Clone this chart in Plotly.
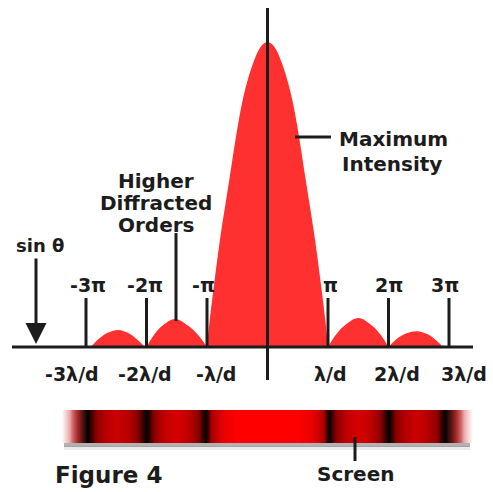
import plotly.graph_objects as go

# ---------------- data ----------------
# diffraction intensity profile: phase in units of pi, relative intensity
curve_phase = [-3.0, -2.92, -2.8, -2.65, -2.47, -2.3, -2.15, -2.03,
               -2.0, -1.875, -1.75, -1.53, -1.3, -1.15, -1.0,
               -0.96, -0.88, -0.78, -0.63, -0.5, -0.41, -0.32, -0.23, -0.15, -0.08, 0.0,
               0.08, 0.15, 0.23, 0.32, 0.41, 0.5, 0.63, 0.78, 0.88, 0.96, 1.0,
               1.13, 1.27, 1.5, 1.73, 1.87, 2.0,
               2.12, 2.3, 2.47, 2.65, 2.8, 2.9, 3.0]
curve_intensity = [0.0, 0.0, 0.025, 0.046, 0.056, 0.046, 0.024, 0.0,
                   0.0, 0.04, 0.068, 0.092, 0.068, 0.04, 0.0,
                   0.08, 0.21, 0.36, 0.55, 0.715, 0.81, 0.88, 0.935, 0.972, 0.992, 1.0,
                   0.992, 0.972, 0.935, 0.88, 0.81, 0.715, 0.55, 0.36, 0.21, 0.08, 0.0,
                   0.04, 0.07, 0.095, 0.07, 0.04, 0.0,
                   0.024, 0.045, 0.052, 0.042, 0.02, 0.0, 0.0]

# tick marks (phase / pi) and their labels
tick_phase = [-3, -2, -1, 1, 2, 3]
pi_labels = ["-3π", "-2π", "-π", "π", "2π", "3π"]
lambda_labels = ["-3λ/d", "-2λ/d", "-λ/d", "λ/d", "2λ/d", "3λ/d"]

# brightness along the screen strip (phase / pi, level: -1 white fade, 0 black, 1 bright red)
screen_pos = [-3.43, -3.41, -3.33, -3.22, -3.1, -2.98, -2.85, -2.7, -2.5, -2.3, -2.15,
              -2.01, -1.88, -1.72, -1.52, -1.32, -1.15, -1.02, -0.92, -0.75, -0.5,
              0.0, 0.5, 0.75, 0.92, 1.0, 1.13, 1.3, 1.5, 1.7, 1.87, 1.99, 2.12,
              2.28, 2.47, 2.65, 2.8, 2.93, 3.05, 3.18, 3.28, 3.38, 3.40]
screen_level = [-1, -1, -0.75, -0.45, -0.2, 0, 0.45, 0.65, 0.75, 0.65, 0.45,
                0, 0.45, 0.7, 0.8, 0.7, 0.45, 0, 0.6, 0.88, 1,
                1, 1, 0.88, 0.6, 0, 0.45, 0.7, 0.8, 0.7, 0.45, 0, 0.45,
                0.65, 0.75, 0.65, 0.45, 0, -0.2, -0.45, -0.75, -1, -1]

# ---------------- layout helpers (pixel -> data) ----------------
W, H = 493, 492
PX0, PXU = 267.5, 60.5   # pixel x of phase 0, pixels per pi
PY0, PYU = 347.0, 305.0  # pixel y of zero intensity, pixels per unit intensity


def ux(px):
    return (px - PX0) / PXU


def iy(py):
    return (PY0 - py) / PYU


INK = "#1c1c1c"
FONT = "DejaVu Sans"
RED = "rgb(255,48,48)"

fig = go.Figure()

# screen strip shadow + strip
fig.add_shape(type="rect", layer="below", x0=ux(64), x1=ux(470), y0=iy(447), y1=iy(440),
              fillcolor="rgba(0,0,0,0.30)", line_width=0)
fig.add_shape(type="rect", layer="below", x0=ux(64), x1=ux(470), y0=iy(450), y1=iy(446),
              fillcolor="rgba(0,0,0,0.08)", line_width=0)
y_top, y_bot = iy(410), iy(443)
hgt = y_top - y_bot
fig.add_trace(go.Heatmap(
    x=screen_pos,
    y=[y_bot + hgt / 4, y_top - hgt / 4],
    z=[screen_level, screen_level],
    zmin=-1, zmax=1, zsmooth="best", showscale=False, hoverinfo="skip",
    colorscale=[[0.0, "rgb(255,255,255)"], [0.2, "rgb(235,165,165)"],
                [0.35, "rgb(170,40,40)"], [0.5, "rgb(0,0,0)"],
                [0.75, "rgb(150,0,0)"], [0.9, "rgb(215,0,0)"],
                [1.0, "rgb(255,0,0)"]],
))

# intensity curve, one filled trace per lobe (split at zero points)
segments = []
cur = []
for xv, yv in zip(curve_phase, curve_intensity):
    cur.append((xv, yv))
    if yv == 0 and len(cur) > 1:
        if max(p[1] for p in cur) > 0:
            segments.append(cur)
        cur = [(xv, yv)]
for seg in segments:
    fig.add_trace(go.Scatter(
        x=[p[0] for p in seg], y=[p[1] for p in seg],
        mode="lines", line=dict(width=0, shape="spline", smoothing=1.0, color=RED),
        fill="tozeroy", fillcolor=RED, hoverinfo="skip", showlegend=False,
    ))

# axis line, centre line, tick marks
LW = 3
fig.add_shape(type="line", x0=ux(12), x1=ux(473), y0=0, y1=0, line=dict(color=INK, width=LW))
fig.add_shape(type="line", x0=0, x1=0, y0=iy(8), y1=iy(380), line=dict(color=INK, width=LW))
for t in tick_phase:
    fig.add_shape(type="line", x0=t, x1=t, y0=0, y1=iy(298), line=dict(color=INK, width=LW))

# pointer lines
fig.add_shape(type="line", x0=ux(295), x1=ux(331), y0=iy(137), y1=iy(137),
              line=dict(color=INK, width=LW))
fig.add_shape(type="line", x0=ux(176), x1=ux(176), y0=iy(233), y1=iy(321),
              line=dict(color=INK, width=LW))
fig.add_shape(type="line", x0=ux(355), x1=ux(355), y0=iy(437), y1=iy(461),
              line=dict(color=INK, width=LW))

annotations = []


def txt(text, px, py, size, xanchor="center"):
    annotations.append(dict(
        text=text, x=ux(px), y=iy(py), xref="x", yref="y", showarrow=False,
        xanchor=xanchor, yanchor="middle",
        font=dict(family=FONT, size=size, color=INK, weight="bold"),
    ))


pi_label_px = [88, 145, 203, 330, 389, 445]
lam_label_px = [72, 145, 216, 330, 397, 464]
for lab, px in zip(pi_labels, pi_label_px):
    txt(lab, px, 285, 19)
for lab, px in zip(lambda_labels, lam_label_px):
    txt(lab, px, 374, 19)

txt("sin θ", 40, 245, 18)
txt("Higher", 156, 181, 20)
txt("Diffracted", 156, 203, 20)
txt("Orders", 156, 225, 20)
txt("Maximum", 337, 139, 20, xanchor="left")
txt("Intensity", 392, 164, 20)
txt("Screen", 356, 474, 20)
txt("Figure 4", 108, 475, 23)

# sin theta arrow
annotations.append(dict(
    x=ux(36), y=iy(344), ax=ux(36), ay=iy(257), xref="x", yref="y", axref="x", ayref="y",
    text="", showarrow=True, arrowhead=2, arrowsize=1.4, arrowwidth=3, arrowcolor=INK,
))

fig.update_layout(
    width=W, height=H, margin=dict(l=0, r=0, t=0, b=0),
    paper_bgcolor="white", plot_bgcolor="white", showlegend=False,
    xaxis=dict(range=[ux(0), ux(W)], visible=False, fixedrange=True),
    yaxis=dict(range=[iy(H), iy(0)], visible=False, fixedrange=True),
    annotations=annotations,
)

fig.write_html(
    "out.html",
    config={"displayModeBar": False},
    post_script="document.body.style.margin='0';document.body.style.overflow='hidden';",
)
